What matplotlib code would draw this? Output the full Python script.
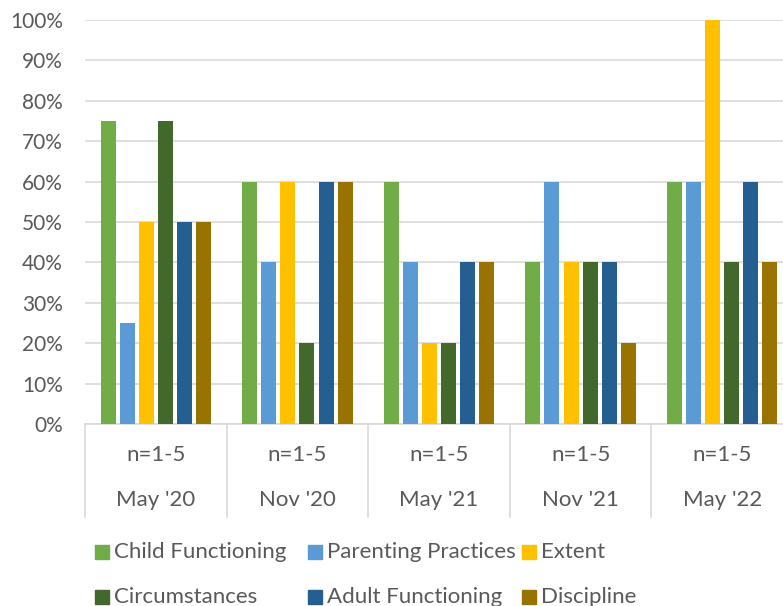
import numpy as np
import matplotlib.pyplot as plt
from matplotlib.patches import Rectangle
from matplotlib.ticker import PercentFormatter

plt.rcParams["font.family"] = ["Lato", "DejaVu Sans"]

# data
periods = ["May '20", "Nov '20", "May '21", "Nov '21", "May '22"]
sample_sizes = ["n=1-5", "n=1-5", "n=1-5", "n=1-5", "n=1-5"]
series = ["Child Functioning", "Parenting Practices", "Extent",
          "Circumstances", "Adult Functioning", "Discipline"]
child_functioning = [0.75, 0.60, 0.60, 0.40, 0.60]
parenting_practices = [0.25, 0.40, 0.40, 0.60, 0.60]
extent = [0.50, 0.60, 0.20, 0.40, 1.00]
circumstances = [0.75, 0.20, 0.20, 0.40, 0.40]
adult_functioning = [0.50, 0.60, 0.40, 0.40, 0.60]
discipline = [0.50, 0.60, 0.40, 0.20, 0.40]
values = [child_functioning, parenting_practices, extent,
          circumstances, adult_functioning, discipline]
colors = ["#70AD47", "#5B9BD5", "#FFC000", "#43682B", "#255E91", "#997300"]

TEXT = "#595959"
GRID = "#D9D9D9"
W, H = 783, 606

fig = plt.figure(figsize=(W / 100, H / 100), dpi=100)
ax = fig.add_axes([85 / W, (H - 424) / H, (793 - 85) / W, (424 - 20) / H])

x = np.arange(len(periods))
slot = 0.1348
for i, (vals, col) in enumerate(zip(values, colors)):
    ax.bar(x + (i - 2.5) * slot, vals, width=0.106, color=col, zorder=3)

ax.set_xlim(-0.5, len(periods) - 0.5)
ax.set_ylim(0, 1)
ax.set_yticks(np.arange(0, 1.01, 0.1))
ax.yaxis.set_major_formatter(PercentFormatter(1.0, decimals=0))
ax.grid(axis="y", color=GRID, linewidth=1.2, zorder=0)
ax.set_axisbelow(True)
for s in ["top", "right", "left"]:
    ax.spines[s].set_visible(False)
ax.spines["bottom"].set_color(GRID)
ax.spines["bottom"].set_linewidth(1.2)
ax.tick_params(axis="y", length=0, pad=16, labelsize=15, labelcolor=TEXT)
ax.set_xticks([])

# two-level category axis
trans = ax.get_xaxis_transform()
for xi, (n, p) in enumerate(zip(sample_sizes, periods)):
    ax.text(xi, (424 - 455) / 404, n, transform=trans, ha="center",
            va="center", fontsize=16, color=TEXT)
    ax.text(xi, (424 - 500) / 404, p, transform=trans, ha="center",
            va="center", fontsize=16, color=TEXT)
for b in np.arange(-0.5, len(periods), 1.0):
    ax.plot([b, b], [0, (424 - 517) / 404], transform=trans, color=GRID,
            linewidth=1.2, clip_on=False)

# legend (two rows, three columns, Excel-like)
col_x = [95, 308, 522]
row_y = [552, 597]
for k, (name, col) in enumerate(zip(series, colors)):
    r, c = divmod(k, 3)
    mx, my = col_x[c], row_y[r]
    fig.patches.append(Rectangle((mx / W, (H - my - 7) / H), 14 / W, 14 / H,
                                 transform=fig.transFigure, color=col))
    fig.text((mx + 19) / W, (H - my) / H, name, ha="left", va="center",
             fontsize=16, color=TEXT)

fig.savefig("out.png", dpi=100, facecolor="white")
